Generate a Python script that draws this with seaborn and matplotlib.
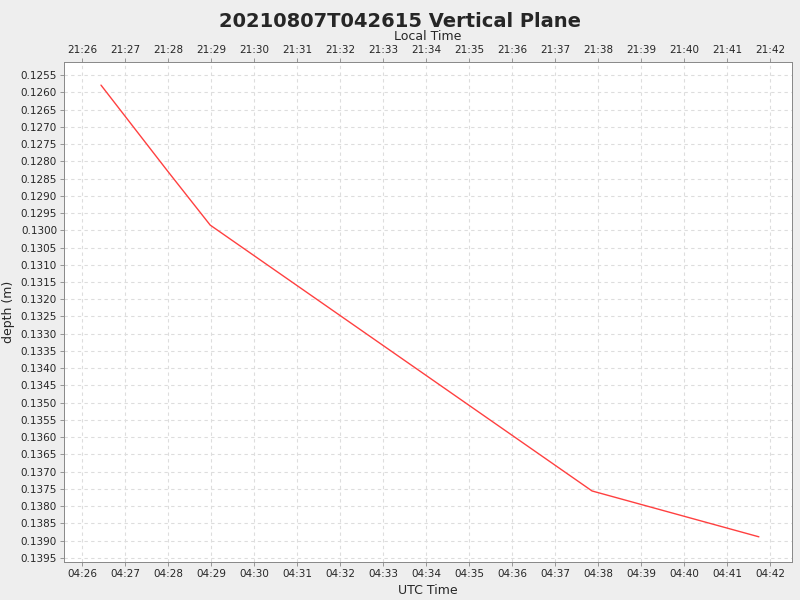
import matplotlib
matplotlib.use("Agg")
import matplotlib.pyplot as plt
import seaborn as sns
import numpy as np
import pandas as pd

# minutes after 04:00 UTC
utc_minutes = [26.44, 27.95, 28.0, 28.98, 37.86, 41.74]
depth = [0.12579, 0.12822, 0.12830, 0.12985, 0.13756, 0.13889]
utc_labels = [f"04:{m}" for m in range(26, 43)]
local_labels = [f"21:{m}" for m in range(26, 43)]
y_ticks = [round(0.1255 + 0.0005 * i, 4) for i in range(29)]

sns.set_theme(style="white")
plt.rcParams['font.family'] = ['DejaVu Sans']
fig = plt.figure(figsize=(8, 6), dpi=100, facecolor="#EEEEEE")
ax = fig.add_axes([64/800, 38/600, 728/800, 500/600])
ax.set_facecolor("white")
df = pd.DataFrame({"t": utc_minutes, "d": depth})
sns.lineplot(data=df, x="t", y="d", ax=ax, color="#FF4040", linewidth=1, sort=False)
ax.set_xlim(25.58, 42.51)
ax.set_ylim(0.13962, 0.12512)
ax.set_xticks(range(26, 43))
ax.set_xticklabels(utc_labels, fontsize=7.5)
ax.set_yticks(y_ticks)
ax.set_yticklabels([f"{v:.4f}" for v in y_ticks], fontsize=7.5)
ax.grid(True, color="#DDDDDD", linestyle=(0, (3, 3)), linewidth=0.8)
ax.tick_params(axis="both", length=3, width=0.6, color="#888888", pad=2, left=True, bottom=True)
for s in ax.spines.values():
    s.set_color("#888888"); s.set_linewidth(0.6)
ax.set_xlabel("UTC Time", fontsize=9)
ax.set_ylabel("depth (m)", fontsize=9)
ax2 = ax.twiny()
ax2.set_xlim(ax.get_xlim())
ax2.set_xticks(range(26, 43))
ax2.set_xticklabels(local_labels, fontsize=7.5)
ax2.tick_params(axis="x", length=3, width=0.6, color="#888888", pad=2, top=True)
ax2.set_xlabel("Local Time", fontsize=9)
for s in ax2.spines.values():
    s.set_color("#888888"); s.set_linewidth(0.6)
fig.text(0.5, 0.98, "20210807T042615 Vertical Plane", ha="center", va="top", fontsize=14, fontweight="bold")
fig.savefig("out.png", dpi=100, facecolor=fig.get_facecolor())
